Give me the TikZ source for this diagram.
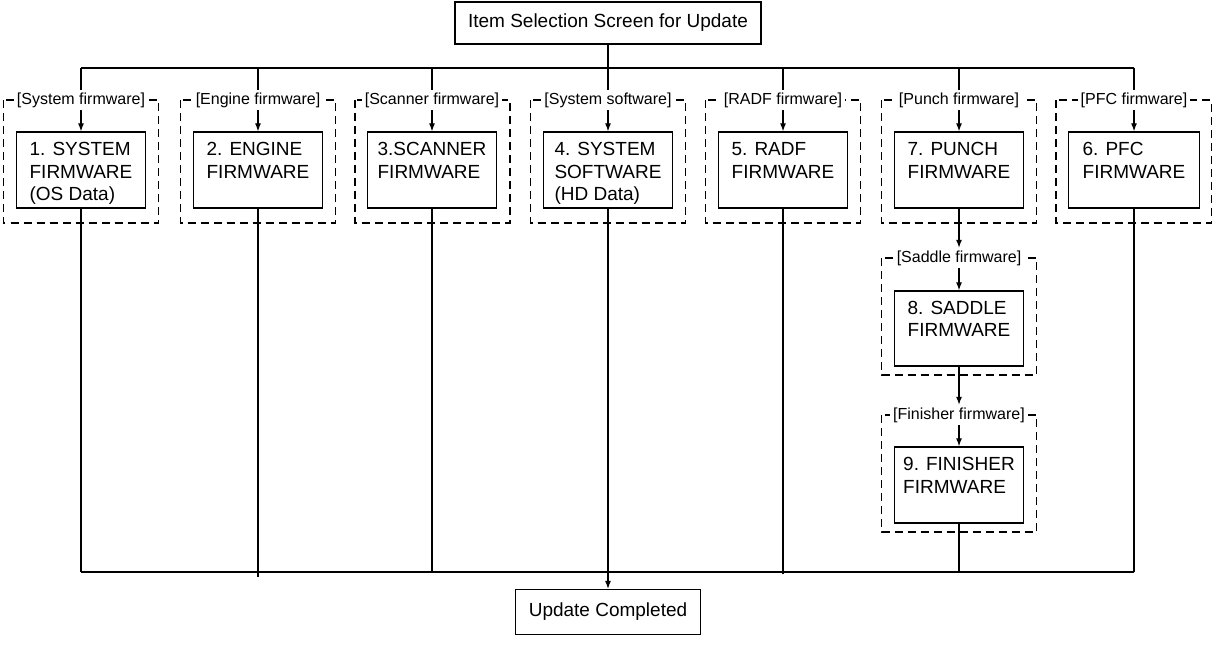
\documentclass[tikz,border=0pt]{standalone}
\usepackage{fontspec}
\setmainfont{Liberation Sans}
\usetikzlibrary{arrows.meta,positioning,calc}
\newcommand{\fwlines}[1]{\vbox to 60pt{\hbox{\begin{tabular}{@{}l@{}}#1\end{tabular}}\vss}}

\begin{document}
\begin{tikzpicture}[x=1pt,y=-1pt,
    fwbox/.style={draw, line width=1.3pt, minimum width=129pt, minimum height=76pt, inner ysep=7pt, font=\fontsize{19}{22.5}\selectfont},
    grpframe/.style={draw, line width=1.1pt, dash pattern=on 8pt off 5pt},
    grplabel/.style={fill=white, inner xsep=3pt, inner ysep=2.5pt, font=\fontsize{16}{18}\selectfont},
    endbox/.style={draw, line width=1.3pt, inner xsep=13pt, font=\fontsize{19}{22}\selectfont},
    link/.style={line width=1.2pt},
    arr/.style={link, -{Latex[length=8pt,width=6pt]}}]

      \fill[white] (0,0) rectangle (1213,645);
      \useasboundingbox (0,0) rectangle (1213,645);

      % --- start and end screens ---
      \node[endbox, minimum width=302pt, minimum height=42pt] (top) at (608,23) {Item Selection Screen for Update};
      \node[endbox, minimum width=185pt, minimum height=45pt] (done) at (608,612) {Update Completed};

      % --- dashed groups (drawn first, labels sit on top) ---
      \draw[grpframe] (3.5,100) rectangle (158.5,223);
      \draw[grpframe] (180.5,100) rectangle (335.5,223);
      \draw[grpframe] (355,100) rectangle (510,223);
      \draw[grpframe] (530.5,100) rectangle (685.5,223);
      \draw[grpframe] (705.5,100) rectangle (860.5,223);
      \draw[grpframe] (881.5,100) rectangle (1036.5,223);
      \draw[grpframe] (1056,100) rectangle (1211.5,223);
      \draw[grpframe] (881.5,258) rectangle (1036.5,375);
      \draw[grpframe] (881.5,415) rectangle (1036.5,532);

      \node[grplabel] (l1) at (81,100) {[System firmware]};
      \node[grplabel] (l2) at (258,100) {[Engine firmware]};
      \node[grplabel] (l3) at (432,100) {[Scanner firmware]};
      \node[grplabel] (l4) at (608,100) {[System software]};
      \node[grplabel] (l5) at (783,100) {[RADF firmware]};
      \node[grplabel] (l7) at (959,100) {[Punch firmware]};
      \node[grplabel] (l6) at (1134,100) {[PFC firmware]};
      \node[grplabel] (l8) at (959,258) {[Saddle firmware]};
      \node[grplabel] (l9) at (959,415) {[Finisher firmware]};

      % --- firmware boxes ---
      \node[fwbox] (b1) at (81,170) {\fwlines{1. SYSTEM\\FIRMWARE\\(OS Data)}};
      \node[fwbox] (b2) at (258,170) {\fwlines{2. ENGINE\\FIRMWARE}};
      \node[fwbox] (b3) at (432,170) {\fwlines{3.SCANNER\\FIRMWARE}};
      \node[fwbox] (b4) at (608,170) {\fwlines{4. SYSTEM\\SOFTWARE\\(HD Data)}};
      \node[fwbox] (b5) at (783,170) {\fwlines{5. RADF\\FIRMWARE}};
      \node[fwbox] (b7) at (959,170) {\fwlines{7. PUNCH\\FIRMWARE}};
      \node[fwbox, minimum width=131pt] (b6) at (1134,170) {\fwlines{6. PFC\\FIRMWARE}};
      \node[fwbox, minimum height=75pt] (b8) at (959,328.5) {\fwlines{8. SADDLE\\FIRMWARE}};
      \node[fwbox] (b9) at (959,485) {\fwlines{9. FINISHER\\FIRMWARE}};

      % --- upper bus ---
      \coordinate (j1) at (81,68);
      \coordinate (j2) at (258,68);
      \coordinate (j3) at (432,68);
      \coordinate (j4) at (608,68);
      \coordinate (j5) at (783,68);
      \coordinate (j7) at (959,68);
      \coordinate (j6) at (1134,68);
      \draw[link] (top) -- (j4);
      \draw[link] (j1) -- (j6);
      \draw[link] (j1) -- (l1.north);
      \draw[link] (j2) -- (l2.north);
      \draw[link] (j3) -- (l3.north);
      \draw[link] (j4) -- (l4.north);
      \draw[link] (j5) -- (l5.north);
      \draw[link] (j7) -- (l7.north);
      \draw[link] (j6) -- (l6.north);
      \draw[arr] (l1) -- (b1);
      \draw[arr] (l2) -- (b2);
      \draw[arr] (l3) -- (b3);
      \draw[arr] (l4) -- (b4);
      \draw[arr] (l5) -- (b5);
      \draw[arr] (l7) -- (b7);
      \draw[arr] (l6) -- (b6);

      % punch -> saddle -> finisher
      \draw[arr] (b7) -- (l8.north);
      \draw[arr] (l8) -- (b8);
      \draw[arr] (b8) -- (l9.north);
      \draw[arr] (l9) -- (b9);

      % --- lower bus ---
      \coordinate (k1) at (81,572);
      \coordinate (k2) at (258,577);
      \coordinate (k3) at (432,572);
      \coordinate (k5) at (783,574);
      \coordinate (k7) at (959,572);
      \coordinate (k6) at (1134,572);
      \draw[link] (k1) -- (k6);
      \draw[link] (b1) -- (k1);
      \draw[link] (b2) -- (k2);
      \draw[link] (b3) -- (k3);
      \draw[link] (b5) -- (k5);
      \draw[link] (b9) -- (k7);
      \draw[link] (b6) -- (k6);
      \draw[arr] (b4) -- (done);
    \end{tikzpicture}
\end{document}
